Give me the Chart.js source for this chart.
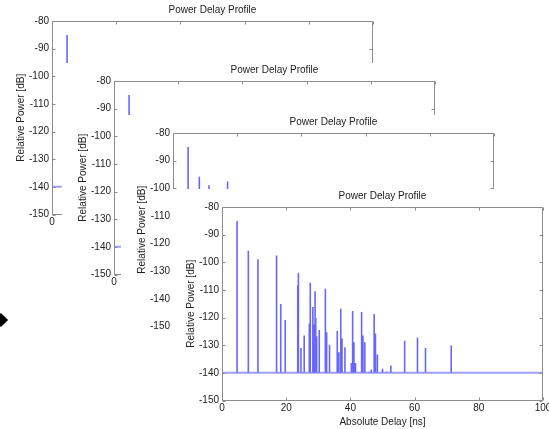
<!DOCTYPE html>
<html lang="en">
<head>
  <meta charset="UTF-8" />
  <title>Power Delay Profile</title>
  <script src="https://cdn.jsdelivr.net/npm/chart.js@4.4.0/dist/chart.umd.min.js"></script>
  <style>
    * { box-sizing: border-box; margin: 0; padding: 0; }
    body {
      width: 549px;
      height: 429px;
      background: #fff;
      position: relative;
      overflow: hidden;
      font-family: "Liberation Sans", Arial, sans-serif;
    }
    .fig {
      position: absolute;
      width: 379px;
      height: 240px;
      background: #fff;
    }
    .marker {
      position: absolute;
      left: -4px;
      top: 315px;
      width: 10px;
      height: 10px;
      background: #000;
      transform: rotate(45deg);
    }
  </style>
</head>
<body>
  <div class="marker"></div>

  <script>
    // Power delay profile: delay in ns, relative power in dB
    const titleText = 'Power Delay Profile';
    const xTitle = 'Absolute Delay [ns]';
    const yTitle = 'Relative Power [dB]';
    const floorDb = -140;

    const delays = [4.7, 8.2, 11.2, 17.0, 18.3, 19.7, 23.6, 23.8, 24.6, 25.6,
                    27.2, 27.5, 28.3, 28.7, 29.0, 29.2, 29.5, 30.3, 32.2, 32.6,
                    33.5, 35.9, 36.4, 37.0, 37.4, 38.3, 40.3, 40.7, 41.1, 41.6,
                    43.5, 43.9, 44.5, 45.9, 46.5, 47.4, 47.8, 48.4, 50.0, 51.3,
                    52.6, 56.9, 60.9, 63.4, 71.4];
    const powers = [-85.1, -95.8, -98.9, -97.5, -115.1, -120.9, -108.3, -103.8, -131.0, -126.5,
                    -122.1, -107.4, -116.2, -122.5, -110.5, -120.2, -126.8, -124.5, -109.6, -125.3,
                    -129.8, -124.9, -132.5, -116.8, -127.6, -130.7, -136.4, -117.6, -128.9, -136.4,
                    -118.0, -126.5, -128.9, -139.6, -138.8, -118.7, -125.8, -133.4, -138.5, -139.5,
                    -137.3, -128.4, -127.2, -131.0, -130.1];

    const xTicks = [0, 20, 40, 60, 80, 100];
    const yTicks = [-150, -140, -130, -120, -110, -100, -90, -80];

    // where each stacked figure sits on the page (back to front)
    const figPos = [
      { left: 0, top: 3 },
      { left: 62, top: 63 },
      { left: 121, top: 115 },
      { left: 170, top: 189 }
    ];

    // stems: floor -> peak -> floor, broken between peaks
    const stemPts = [];
    delays.forEach((d, i) => {
      stemPts.push({ x: d, y: floorDb }, { x: d, y: powers[i] }, { x: d, y: floorDb }, { x: d, y: null });
    });
    const floorPts = [{ x: xTicks[0], y: floorDb }, { x: xTicks[xTicks.length - 1], y: floorDb }];

    // matlab style box with inward ticks on all four sides
    const boxFrame = {
      id: 'boxFrame',
      afterDraw(chart) {
        const { ctx, chartArea: a, scales: { x, y } } = chart;
        const L = Math.round(a.left) + 0.5, R = Math.round(a.right) - 0.5;
        const T = Math.round(a.top) + 0.5, B = Math.round(a.bottom) - 0.5;
        const tl = 3;
        ctx.save();
        ctx.strokeStyle = '#8c8c8c';
        ctx.lineWidth = 1;
        ctx.beginPath();
        ctx.rect(L, T, R - L, B - T);
        x.ticks.forEach(t => {
          const px = Math.round(x.getPixelForValue(t.value)) + 0.5;
          ctx.moveTo(px, B); ctx.lineTo(px, B - tl);
          ctx.moveTo(px, T); ctx.lineTo(px, T + tl);
        });
        y.ticks.forEach(t => {
          const py = Math.round(y.getPixelForValue(t.value)) + 0.5;
          ctx.moveTo(L, py); ctx.lineTo(L + tl, py);
          ctx.moveTo(R, py); ctx.lineTo(R - tl, py);
        });
        ctx.stroke();
        ctx.restore();
      }
    };

    const font = { family: '"Liberation Sans", Arial, sans-serif', size: 10 };
    const textColor = '#222';

    figPos.forEach(p => {
      const div = document.createElement('div');
      div.className = 'fig';
      div.style.left = p.left + 'px';
      div.style.top = p.top + 'px';
      const cv = document.createElement('canvas');
      cv.width = 379;
      cv.height = 240;
      div.appendChild(cv);
      document.body.appendChild(div);

      new Chart(cv.getContext('2d'), {
        type: 'line',
        data: {
          datasets: [
            {
              data: floorPts,
              borderColor: 'rgba(120,120,255,0.7)',
              borderWidth: 2,
              pointRadius: 0,
              tension: 0
            },
            {
              data: stemPts,
              borderColor: 'rgba(10,10,255,0.62)',
              borderWidth: 1.6,
              pointRadius: 0,
              tension: 0,
              spanGaps: false
            }
          ]
        },
        options: {
          responsive: false,
          animation: false,
          events: [],
          layout: { padding: { left: 0, right: 6, top: 0, bottom: 0 } },
          plugins: {
            legend: { display: false },
            tooltip: { enabled: false },
            title: {
              display: true,
              text: titleText,
              fullSize: false,
              color: textColor,
              font: { ...font, weight: 'normal' },
              padding: { top: 1, bottom: 5 }
            }
          },
          scales: {
            x: {
              type: 'linear',
              min: xTicks[0],
              max: xTicks[xTicks.length - 1],
              grid: { display: false, drawTicks: false },
              border: { display: false },
              afterBuildTicks: s => { s.ticks = xTicks.map(v => ({ value: v })); },
              ticks: { color: textColor, font, padding: 2, maxRotation: 0, autoSkip: false },
              title: { display: true, text: xTitle, color: textColor, font, padding: { top: 0, bottom: 1 } },
              afterFit: s => { s.height = 28.5; s.paddingLeft = 0; s.paddingRight = 0; }
            },
            y: {
              type: 'linear',
              min: yTicks[0],
              max: yTicks[yTicks.length - 1],
              grid: { display: false, drawTicks: false },
              border: { display: false },
              afterBuildTicks: s => { s.ticks = yTicks.map(v => ({ value: v })); },
              ticks: { color: textColor, font, padding: 3 },
              title: { display: true, text: yTitle, color: textColor, font, padding: { top: 15, bottom: 0 } },
              afterFit: s => { s.width = 52; s.paddingTop = 0; s.paddingBottom = 0; }
            }
          }
        },
        plugins: [boxFrame]
      });
    });
  </script>
</body>
</html>
